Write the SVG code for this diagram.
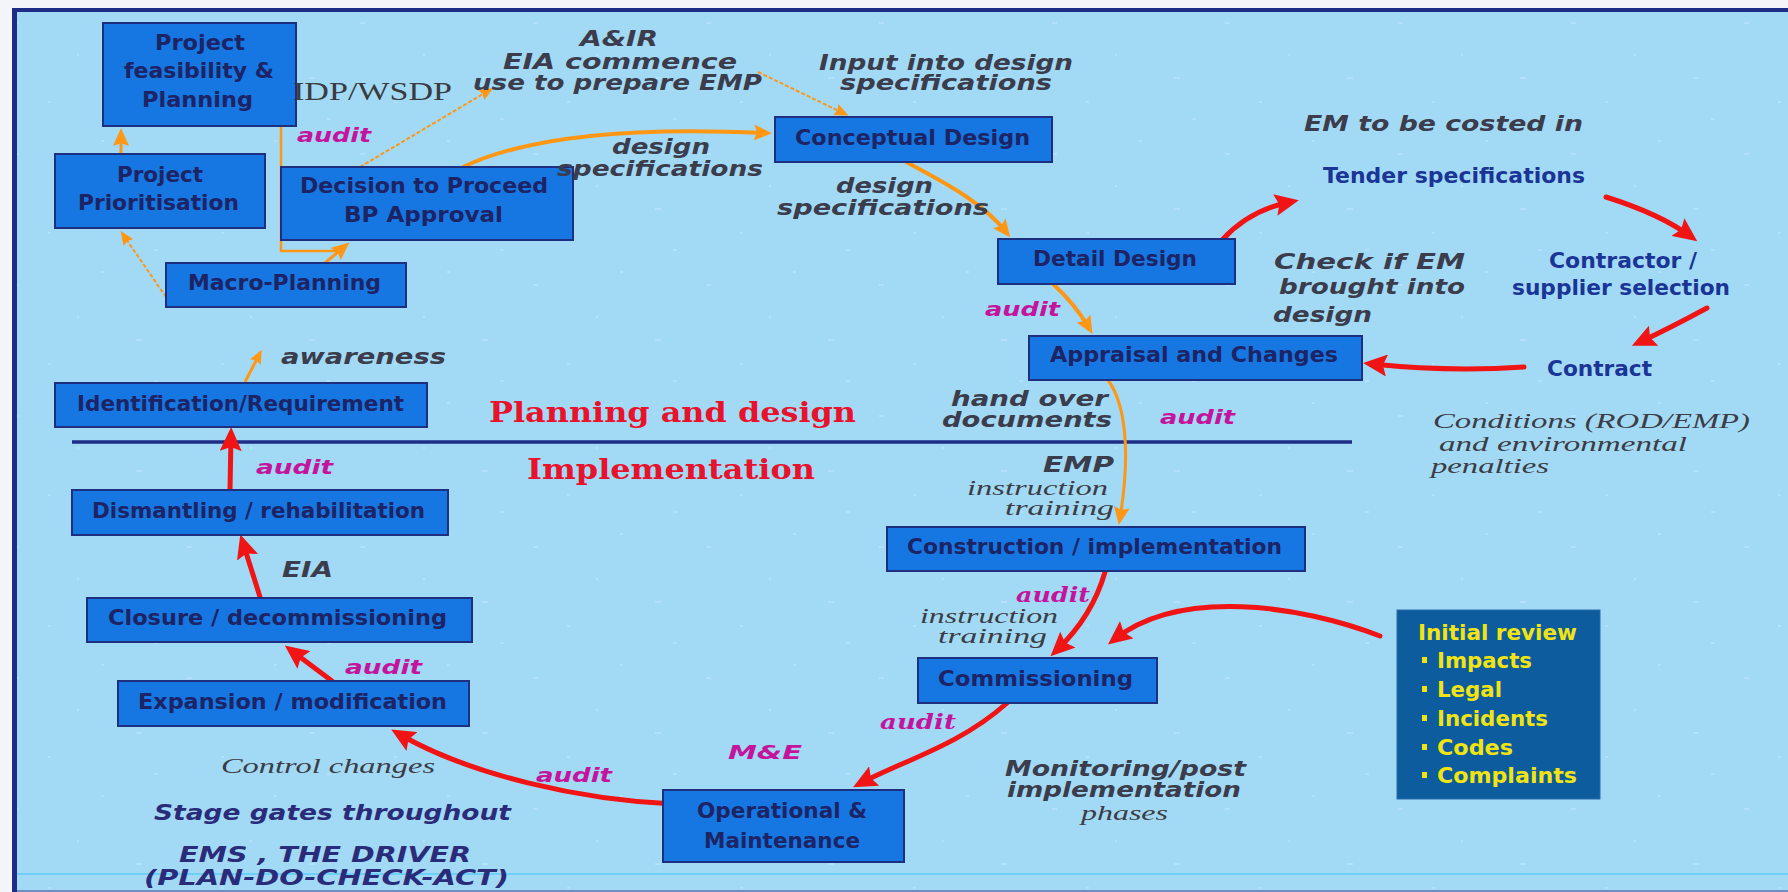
<svg xmlns="http://www.w3.org/2000/svg" width="1788" height="892" viewBox="0 0 1788 892">
  <defs>
    <style>
      .box { fill: #1677e2; stroke: #1f2f80; stroke-width: 2; }
      .bt { font-family: "DejaVu Sans", "Liberation Sans", sans-serif; font-weight: bold; font-size: 21px; fill: #1c2466; }
      .ann { font-family: "DejaVu Sans", "Liberation Sans", sans-serif; font-weight: bold; font-style: italic; font-size: 21px; fill: #3b3c4c; }
      .aud { font-family: "DejaVu Sans", "Liberation Sans", sans-serif; font-weight: bold; font-style: italic; font-size: 20px; fill: #c4149c; }
      .auds { font-family: "DejaVu Serif", "Liberation Serif", serif; font-weight: bold; font-style: italic; font-size: 20px; fill: #c4149c; }
      .stg { font-family: "DejaVu Sans", "Liberation Sans", sans-serif; font-weight: bold; font-style: italic; font-size: 22px; fill: #2a2c7a; }
      .it { font-family: "Liberation Serif", "DejaVu Serif", serif; font-style: italic; font-size: 22px; fill: #3c3c44; }
      .sec { font-family: "DejaVu Serif", "Liberation Serif", serif; font-weight: bold; font-size: 27px; fill: #e8122c; }
      .blu { font-family: "DejaVu Sans", "Liberation Sans", sans-serif; font-weight: bold; font-size: 21px; fill: #1a3596; }
      .yel { font-family: "DejaVu Sans", "Liberation Sans", sans-serif; font-weight: bold; font-size: 22px; fill: #f2e412; }
      .idp { font-family: "Liberation Serif", "DejaVu Serif", serif; font-size: 25px; fill: #3a3a40; }
      .oT { fill: none; stroke: #ff9614; stroke-width: 4; }
      .oM { fill: none; stroke: #ff9614; stroke-width: 3; }
      .oD { fill: none; stroke: #ff9614; stroke-width: 2; stroke-dasharray: 4 2; }
      .oE { fill: none; stroke: #ff9614; stroke-width: 2.5; }
      .rd { fill: none; stroke: #f01414; stroke-width: 5; stroke-linecap: round; }
    </style>
    <marker id="aO" markerUnits="userSpaceOnUse" markerWidth="18" markerHeight="16" refX="11" refY="8" orient="auto">
      <path d="M0,0 L18,8 L0,16 L3,8 z" fill="#ff9614"/>
    </marker>
    <marker id="aOs" markerUnits="userSpaceOnUse" markerWidth="14" markerHeight="12" refX="8" refY="6" orient="auto">
      <path d="M0,0 L14,6 L0,12 L2,6 z" fill="#ff9614"/>
    </marker>
    <marker id="aR" markerUnits="userSpaceOnUse" markerWidth="24" markerHeight="22" refX="15" refY="11" orient="auto">
      <path d="M0,0 L24,11 L0,22 L4,11 z" fill="#f01414"/>
    </marker>
    <!-- faint mottled slide background -->
    <pattern id="speck" patternUnits="userSpaceOnUse" width="173" height="131">
      <rect width="173" height="131" fill="#a2daf6"/>
      <g fill="#b3e1f9">
        <rect x="14" y="22" width="5" height="2"/>
        <rect x="101" y="9" width="3" height="2"/>
        <rect x="136" y="77" width="6" height="2"/>
        <rect x="48" y="101" width="3" height="2"/>
        <rect x="77" y="54" width="2" height="2"/>
        <rect x="154" y="118" width="4" height="2"/>
      </g>
    </pattern>
  </defs>

  <!-- slide frame -->
  <rect x="0" y="0" width="1788" height="892" fill="#f3f5f9"/>
  <rect x="12" y="8" width="1776" height="884" fill="url(#speck)"/>
  <line x1="12" y1="10" x2="1788" y2="10" stroke="#1e2d86" stroke-width="4"/>
  <line x1="14.5" y1="8" x2="14.5" y2="892" stroke="#1e2d86" stroke-width="5"/>
  <line x1="17" y1="874" x2="1788" y2="874" stroke="#6dd0f6" stroke-width="2"/>
  <line x1="17" y1="891" x2="1788" y2="891" stroke="#6f8fc4" stroke-width="2"/>

  <!-- divider between the two phases -->
  <line x1="72" y1="442" x2="1352" y2="442" stroke="#1e2d86" stroke-width="3.5"/>
  <text class="sec" x="489" y="422" textLength="367" lengthAdjust="spacingAndGlyphs">Planning and design</text>
  <text class="sec" x="527" y="479" textLength="288" lengthAdjust="spacingAndGlyphs">Implementation</text>

  <!-- connectors -->
  <g id="connectors">
    <path class="oM" d="M121,154 L121,135" marker-end="url(#aO)"/>
    <path class="oD" d="M166,297 L124,236" marker-end="url(#aOs)"/>
    <path class="oM" d="M325,263 L344,247" marker-end="url(#aO)"/>
    <path class="oE" d="M264,107 H281 V251 H336 L344,247"/>
    <path class="oD" d="M360,167 L488,91" marker-end="url(#aOs)"/>
    <path class="oD" d="M758,72 L843,113" marker-end="url(#aOs)"/>
    <path class="oT" d="M463,167 C530,135 640,127 765,133" marker-end="url(#aO)"/>
    <path class="oT" d="M906,162 C950,185 985,205 1006,232" marker-end="url(#aO)"/>
    <path class="oT" d="M1053,284 Q1075,304 1089,328" marker-end="url(#aO)"/>
    <path class="oM" d="M1108,380 C1130,410 1128,470 1120,518" marker-end="url(#aO)"/>
    <path class="oM" d="M245,382 L259,355" marker-end="url(#aOs)"/>

    <path class="rd" d="M1223,239 Q1250,210 1290,202" marker-end="url(#aR)"/>
    <path class="rd" d="M1606,197 Q1660,214 1690,236" marker-end="url(#aR)"/>
    <path class="rd" d="M1707,308 Q1670,328 1640,342" marker-end="url(#aR)"/>
    <path class="rd" d="M1524,367 Q1450,372 1372,364" marker-end="url(#aR)"/>
    <path class="rd" d="M1105,572 C1097,600 1080,628 1057,650" marker-end="url(#aR)"/>
    <path class="rd" d="M1380,636 C1300,605 1180,588 1115,639" marker-end="url(#aR)"/>
    <path class="rd" d="M1007,703 C960,745 905,760 861,783" marker-end="url(#aR)"/>
    <path class="rd" d="M674,804 C580,800 470,775 399,734" marker-end="url(#aR)"/>
    <path class="rd" d="M332,681 L292,651" marker-end="url(#aR)"/>
    <path class="rd" d="M260,597 L243,543" marker-end="url(#aR)"/>
    <path class="rd" d="M230,490 L231,436" marker-end="url(#aR)"/>
  </g>

  <!-- planning nodes -->
  <g id="n-feasibility">
    <rect class="box" x="103" y="23" width="193" height="103"/>
    <text class="bt" x="155" y="50" textLength="90" lengthAdjust="spacingAndGlyphs">Project</text>
    <text class="bt" x="124" y="78" textLength="150" lengthAdjust="spacingAndGlyphs">feasibility &amp;</text>
    <text class="bt" x="142" y="107" textLength="111" lengthAdjust="spacingAndGlyphs">Planning</text>
  </g>
  <g id="n-prioritisation">
    <rect class="box" x="55" y="154" width="210" height="74"/>
    <text class="bt" x="117" y="182" textLength="86" lengthAdjust="spacingAndGlyphs">Project</text>
    <text class="bt" x="78" y="210" textLength="161" lengthAdjust="spacingAndGlyphs">Prioritisation</text>
  </g>
  <g id="n-decision">
    <rect class="box" x="281" y="167" width="292" height="73"/>
    <text class="bt" x="300" y="193" textLength="248" lengthAdjust="spacingAndGlyphs">Decision to Proceed</text>
    <text class="bt" x="344" y="222" textLength="159" lengthAdjust="spacingAndGlyphs">BP Approval</text>
  </g>
  <g id="n-macro">
    <rect class="box" x="166" y="263" width="240" height="44"/>
    <text class="bt" x="188" y="290" textLength="193" lengthAdjust="spacingAndGlyphs">Macro-Planning</text>
  </g>
  <g id="n-conceptual">
    <rect class="box" x="775" y="117" width="277" height="45"/>
    <text class="bt" x="795" y="145" textLength="235" lengthAdjust="spacingAndGlyphs">Conceptual Design</text>
  </g>
  <g id="n-detail">
    <rect class="box" x="998" y="239" width="237" height="45"/>
    <text class="bt" x="1033" y="266" textLength="164" lengthAdjust="spacingAndGlyphs">Detail Design</text>
  </g>
  <g id="n-appraisal">
    <rect class="box" x="1029" y="336" width="333" height="44"/>
    <text class="bt" x="1050" y="362" textLength="288" lengthAdjust="spacingAndGlyphs">Appraisal and Changes</text>
  </g>
  <g id="n-identification">
    <rect class="box" x="55" y="383" width="372" height="44"/>
    <text class="bt" x="77" y="411" textLength="327" lengthAdjust="spacingAndGlyphs">Identification/Requirement</text>
  </g>

  <!-- implementation nodes -->
  <g id="n-dismantling">
    <rect class="box" x="72" y="490" width="376" height="45"/>
    <text class="bt" x="92" y="518" textLength="333" lengthAdjust="spacingAndGlyphs">Dismantling / rehabilitation</text>
  </g>
  <g id="n-closure">
    <rect class="box" x="87" y="598" width="385" height="44"/>
    <text class="bt" x="108" y="625" textLength="339" lengthAdjust="spacingAndGlyphs">Closure / decommissioning</text>
  </g>
  <g id="n-expansion">
    <rect class="box" x="118" y="681" width="351" height="45"/>
    <text class="bt" x="138" y="709" textLength="309" lengthAdjust="spacingAndGlyphs">Expansion / modification</text>
  </g>
  <g id="n-construction">
    <rect class="box" x="887" y="527" width="418" height="44"/>
    <text class="bt" x="907" y="554" textLength="375" lengthAdjust="spacingAndGlyphs">Construction / implementation</text>
  </g>
  <g id="n-commissioning">
    <rect class="box" x="918" y="658" width="239" height="45"/>
    <text class="bt" x="938" y="686" textLength="195" lengthAdjust="spacingAndGlyphs">Commissioning</text>
  </g>
  <g id="n-operational">
    <rect class="box" x="663" y="790" width="241" height="72"/>
    <text class="bt" x="697" y="818" textLength="170" lengthAdjust="spacingAndGlyphs">Operational &amp;</text>
    <text class="bt" x="704" y="848" textLength="156" lengthAdjust="spacingAndGlyphs">Maintenance</text>
  </g>
  <g id="n-initial-review">
    <rect x="1397" y="610" width="203" height="189" fill="#0c5c9e" stroke="#2a6aa8" stroke-width="1"/>
    <text class="yel" x="1418" y="640" textLength="159" lengthAdjust="spacingAndGlyphs">Initial review</text>
    <g fill="#f2e412">
      <rect x="1422" y="657" width="5" height="6"/>
      <rect x="1422" y="686" width="5" height="6"/>
      <rect x="1422" y="715" width="5" height="6"/>
      <rect x="1422" y="744" width="5" height="6"/>
      <rect x="1422" y="772" width="5" height="6"/>
    </g>
    <text class="yel" x="1437" y="668" textLength="95" lengthAdjust="spacingAndGlyphs">Impacts</text>
    <text class="yel" x="1437" y="697" textLength="65" lengthAdjust="spacingAndGlyphs">Legal</text>
    <text class="yel" x="1437" y="726" textLength="111" lengthAdjust="spacingAndGlyphs">Incidents</text>
    <text class="yel" x="1437" y="755" textLength="76" lengthAdjust="spacingAndGlyphs">Codes</text>
    <text class="yel" x="1437" y="783" textLength="140" lengthAdjust="spacingAndGlyphs">Complaints</text>
  </g>

  <!-- tender cycle -->
  <g id="n-tender">
    <text class="blu" x="1323" y="183" textLength="262" lengthAdjust="spacingAndGlyphs">Tender specifications</text>
  </g>
  <g id="n-contractor">
    <text class="blu" x="1549" y="268" textLength="148" lengthAdjust="spacingAndGlyphs">Contractor /</text>
    <text class="blu" x="1512" y="295" textLength="218" lengthAdjust="spacingAndGlyphs">supplier selection</text>
  </g>
  <g id="n-contract">
    <text class="blu" x="1547" y="376" textLength="105" lengthAdjust="spacingAndGlyphs">Contract</text>
  </g>

  <!-- annotations -->
  <g id="labels">
    <text class="idp" x="293" y="100" textLength="159" lengthAdjust="spacingAndGlyphs">IDP/WSDP</text>
    <text class="aud" x="297" y="142" textLength="74" lengthAdjust="spacingAndGlyphs">audit</text>
    <text class="ann" x="580" y="46" textLength="78" lengthAdjust="spacingAndGlyphs">A&amp;IR</text>
    <text class="ann" x="503" y="69" textLength="234" lengthAdjust="spacingAndGlyphs">EIA commence</text>
    <text class="ann" x="473" y="90" textLength="289" lengthAdjust="spacingAndGlyphs">use to prepare EMP</text>
    <text class="ann" x="819" y="70" textLength="254" lengthAdjust="spacingAndGlyphs">Input into design</text>
    <text class="ann" x="840" y="90" textLength="212" lengthAdjust="spacingAndGlyphs">specifications</text>
    <text class="ann" x="612" y="154" textLength="98" lengthAdjust="spacingAndGlyphs">design</text>
    <text class="ann" x="557" y="176" textLength="206" lengthAdjust="spacingAndGlyphs">specifications</text>
    <text class="ann" x="836" y="193" textLength="97" lengthAdjust="spacingAndGlyphs">design</text>
    <text class="ann" x="777" y="215" textLength="212" lengthAdjust="spacingAndGlyphs">specifications</text>
    <text class="ann" x="1304" y="131" textLength="279" lengthAdjust="spacingAndGlyphs">EM to be costed in</text>
    <text class="ann" x="1274" y="269" textLength="191" lengthAdjust="spacingAndGlyphs">Check if EM</text>
    <text class="ann" x="1279" y="294" textLength="186" lengthAdjust="spacingAndGlyphs">brought into</text>
    <text class="ann" x="1273" y="322" textLength="99" lengthAdjust="spacingAndGlyphs">design</text>
    <text class="aud" x="985" y="316" textLength="75" lengthAdjust="spacingAndGlyphs">audit</text>
    <text class="ann" x="281" y="364" textLength="165" lengthAdjust="spacingAndGlyphs">awareness</text>
    <text class="ann" x="951" y="406" textLength="157" lengthAdjust="spacingAndGlyphs">hand over</text>
    <text class="ann" x="942" y="427" textLength="170" lengthAdjust="spacingAndGlyphs">documents</text>
    <text class="aud" x="1160" y="424" textLength="75" lengthAdjust="spacingAndGlyphs">audit</text>
    <text class="it" x="1433" y="428" textLength="317" lengthAdjust="spacingAndGlyphs">Conditions (ROD/EMP)</text>
    <text class="it" x="1439" y="451" textLength="248" lengthAdjust="spacingAndGlyphs">and environmental</text>
    <text class="it" x="1431" y="473" textLength="118" lengthAdjust="spacingAndGlyphs">penalties</text>
    <text class="ann" x="1043" y="472" textLength="71" lengthAdjust="spacingAndGlyphs">EMP</text>
    <text class="it" x="967" y="495" textLength="141" lengthAdjust="spacingAndGlyphs">instruction</text>
    <text class="it" x="1005" y="515" textLength="109" lengthAdjust="spacingAndGlyphs">training</text>
    <text class="aud" x="256" y="474" textLength="77" lengthAdjust="spacingAndGlyphs">audit</text>
    <text class="ann" x="282" y="577" textLength="51" lengthAdjust="spacingAndGlyphs">EIA</text>
    <text class="auds" x="1016" y="602" textLength="74" lengthAdjust="spacingAndGlyphs">audit</text>
    <text class="it" x="920" y="623" textLength="138" lengthAdjust="spacingAndGlyphs">instruction</text>
    <text class="it" x="938" y="643" textLength="109" lengthAdjust="spacingAndGlyphs">training</text>
    <text class="aud" x="345" y="674" textLength="77" lengthAdjust="spacingAndGlyphs">audit</text>
    <text class="auds" x="880" y="729" textLength="76" lengthAdjust="spacingAndGlyphs">audit</text>
    <text class="aud" x="728" y="759" textLength="74" lengthAdjust="spacingAndGlyphs">M&amp;E</text>
    <text class="aud" x="536" y="782" textLength="76" lengthAdjust="spacingAndGlyphs">audit</text>
    <text class="it" x="221" y="773" textLength="214" lengthAdjust="spacingAndGlyphs">Control changes</text>
    <text class="ann" x="1005" y="776" textLength="241" lengthAdjust="spacingAndGlyphs">Monitoring/post</text>
    <text class="ann" x="1007" y="797" textLength="234" lengthAdjust="spacingAndGlyphs">implementation</text>
    <text class="it" x="1081" y="820" textLength="87" lengthAdjust="spacingAndGlyphs">phases</text>
    <text class="stg" x="154" y="820" textLength="357" lengthAdjust="spacingAndGlyphs">Stage gates throughout</text>
    <text class="stg" x="179" y="862" textLength="292" lengthAdjust="spacingAndGlyphs">EMS , THE DRIVER</text>
    <text class="stg" x="144" y="885" textLength="365" lengthAdjust="spacingAndGlyphs">(PLAN-DO-CHECK-ACT)</text>
  </g>
</svg>
